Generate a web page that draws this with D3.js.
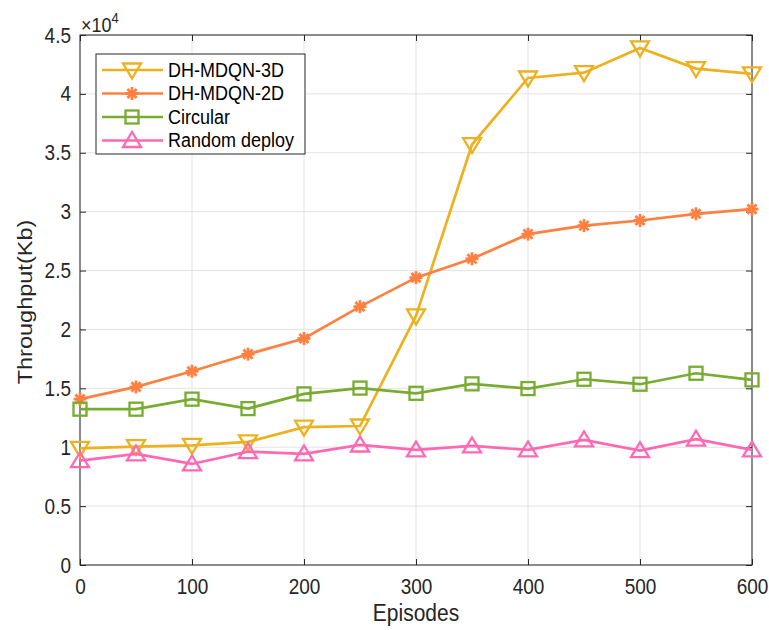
<!DOCTYPE html>
<html>
<head>
<meta charset="utf-8">
<script src="https://cdn.jsdelivr.net/npm/d3@7"></script>
<style>
  body { margin: 0; background: #fff; }
  svg { font-family: "Liberation Sans", Arial, sans-serif; }
</style>
</head>
<body>
<div id="chart"></div>
<script>
// Data
const episodes = [0, 50, 100, 150, 200, 250, 300, 350, 400, 450, 500, 550, 600];
const mdqn3d = [9900, 10050, 10150, 10450, 11700, 11800, 21150, 35700, 41350, 41800, 43900, 42150, 41700];
const mdqn2d = [14080, 15120, 16450, 17900, 19230, 21940, 24400, 26000, 28090, 28820, 29250, 29820, 30220];
const circular = [13230, 13230, 14080, 13280, 14530, 15020, 14580, 15380, 14980, 15770, 15350, 16280, 15720];
const randomDeploy = [8860, 9430, 8580, 9620, 9430, 10190, 9770, 10110, 9770, 10620, 9710, 10680, 9770];
const xTicks = [0, 100, 200, 300, 400, 500, 600];
const yTicks = [0, 5000, 10000, 15000, 20000, 25000, 30000, 35000, 40000, 45000];

const series = [
  { name: "DH-MDQN-3D", values: mdqn3d, color: "#EDB120", marker: "tri-down" },
  { name: "DH-MDQN-2D", values: mdqn2d, color: "#FF8040", marker: "asterisk" },
  { name: "Circular", values: circular, color: "#77AC30", marker: "square" },
  { name: "Random deploy", values: randomDeploy, color: "#FF69B4", marker: "tri-up" }
];

const margin = { top: 35, right: 17, bottom: 65, left: 80 };
const W = 769, H = 630;
const width = W - margin.left - margin.right;
const height = H - margin.top - margin.bottom;
const stretch = 1.12; // the picture is a bit taller than wide, text too

const svg = d3.select("#chart").append("svg")
  .attr("width", W)
  .attr("height", H);

const g = svg.append("g")
  .attr("transform", `translate(${margin.left},${margin.top})`);

const x = d3.scaleLinear().domain([0, 600]).range([0, width]);
const y = d3.scaleLinear().domain([0, 45000]).range([height, 0]);

// grid
g.append("g").selectAll("line").data(xTicks).enter().append("line")
  .attr("x1", d => x(d)).attr("x2", d => x(d))
  .attr("y1", 0).attr("y2", height)
  .attr("stroke", "#e3e3e3").attr("stroke-width", 1);
g.append("g").selectAll("line").data(yTicks).enter().append("line")
  .attr("x1", 0).attr("x2", width)
  .attr("y1", d => y(d)).attr("y2", d => y(d))
  .attr("stroke", "#e3e3e3").attr("stroke-width", 1);

// axes (ticks inward, box on)
const axisColor = "#262626";
function styleAxis(sel) {
  sel.select(".domain").remove();
  sel.selectAll(".tick line").attr("stroke", axisColor);
  sel.selectAll(".tick text").attr("fill", axisColor).style("font-size", "19px");
}
g.append("g").attr("transform", `translate(0,${height})`)
  .call(d3.axisBottom(x).tickValues(xTicks).tickSizeInner(-6).tickSizeOuter(0))
  .call(styleAxis)
  .selectAll(".tick text")
  .attr("y", 0).attr("dy", null)
  .attr("transform", `translate(0,29) scale(1,${stretch})`);
g.append("g")
  .call(d3.axisLeft(y).tickValues(yTicks).tickFormat(d => d === 0 ? "0" : d3.format("")(d / 10000)).tickSizeInner(-6).tickSizeOuter(0))
  .call(styleAxis)
  .selectAll(".tick text")
  .attr("x", 0).attr("dy", null)
  .attr("transform", `translate(-9,7) scale(1,${stretch})`);
g.append("g")
  .call(d3.axisTop(x).tickValues(xTicks).tickSizeInner(-6).tickSizeOuter(0).tickFormat(""))
  .call(styleAxis);
g.append("g").attr("transform", `translate(${width},0)`)
  .call(d3.axisRight(y).tickValues(yTicks).tickSizeInner(-6).tickSizeOuter(0).tickFormat(""))
  .call(styleAxis);
g.append("rect")
  .attr("width", width).attr("height", height)
  .attr("fill", "none").attr("stroke", axisColor).attr("stroke-width", 1);

// exponent label
const expo = svg.append("text")
  .attr("transform", `translate(${margin.left + 1},${margin.top - 3}) scale(1,${stretch})`)
  .attr("fill", axisColor).style("font-size", "18px");
expo.append("tspan").text("\u00d710");
expo.append("tspan").attr("dy", -8).style("font-size", "13px").text("4");

// axis titles
svg.append("text")
  .attr("transform", `translate(${margin.left + width / 2},${H - 9}) scale(1,${stretch})`)
  .attr("text-anchor", "middle").attr("fill", axisColor)
  .style("font-size", "21px").text("Episodes");
svg.append("text")
  .attr("transform", `translate(32,${margin.top + height / 2 + 2}) rotate(-90) scale(${stretch},1)`)
  .attr("text-anchor", "middle").attr("fill", axisColor)
  .style("font-size", "21px").text("Throughput(Kb)");

// markers
function drawMarker(sel, type, color) {
  if (type === "tri-down") {
    sel.append("path").attr("d", "M-9,-6.5 L9,-6.5 L0,8.5 Z")
      .attr("fill", "none").attr("stroke", color).attr("stroke-width", 2.3);
  } else if (type === "tri-up") {
    sel.append("path").attr("d", "M-9,6.5 L9,6.5 L0,-8.5 Z")
      .attr("fill", "none").attr("stroke", color).attr("stroke-width", 2.3);
  } else if (type === "square") {
    sel.append("rect").attr("x", -6.5).attr("y", -6.5).attr("width", 13).attr("height", 13)
      .attr("fill", "none").attr("stroke", color).attr("stroke-width", 2.3);
  } else {
    [0, 45, 90, 135].forEach(a => {
      sel.append("line").attr("x1", -6.5).attr("x2", 6.5).attr("y1", 0).attr("y2", 0)
        .attr("transform", `rotate(${a})`)
        .attr("stroke", color).attr("stroke-width", 2.8);
    });
  }
}

const line = d3.line().x((d, i) => x(episodes[i])).y(d => y(d));

series.forEach(s => {
  g.append("path").datum(s.values)
    .attr("d", line)
    .attr("fill", "none")
    .attr("stroke", s.color)
    .attr("stroke-width", 2.7);
  g.append("g").selectAll("g").data(s.values).enter().append("g")
    .attr("transform", (d, i) => `translate(${x(episodes[i])},${y(d)})`)
    .each(function() { drawMarker(d3.select(this), s.marker, s.color); });
});

// legend
const legend = svg.append("g").attr("transform", "translate(96,54)");
legend.append("rect")
  .attr("width", 209).attr("height", 100)
  .attr("fill", "#fff").attr("stroke", axisColor).attr("stroke-width", 1);
series.forEach((s, i) => {
  const ly = 16 + i * 23.5;
  const row = legend.append("g").attr("transform", `translate(0,${ly})`);
  row.append("line").attr("x1", 6).attr("x2", 67).attr("y1", 0).attr("y2", 0)
    .attr("stroke", s.color).attr("stroke-width", 2.7);
  drawMarker(row.append("g").attr("transform", "translate(36,0)"), s.marker, s.color);
  row.append("text").attr("transform", `translate(72,6.5) scale(1,${stretch})`)
    .attr("fill", "#000").style("font-size", "18px").text(s.name);
});
</script>
</body>
</html>
